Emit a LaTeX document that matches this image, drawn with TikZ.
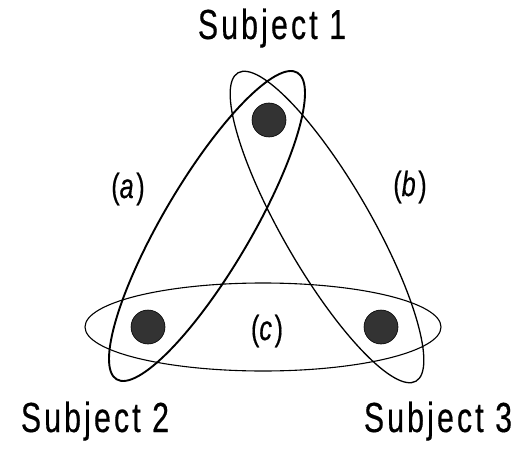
\documentclass[tikz,border=0pt]{standalone}
\usepackage{fontspec}
\setmainfont{Liberation Sans}[FakeStretch=0.72,LetterSpace=7.5,FakeBold=0.4]
\begin{document}
\begin{tikzpicture}[x=1pt,y=1pt,
  dot/.style={circle,draw=black,line width=0.6pt,fill=black!80,minimum size=34pt,inner sep=0pt},
  subj/.style={font=\fontsize{42}{46}\selectfont,anchor=base,inner sep=0pt},
  lab/.style={font=\fontsize{35}{38}\selectfont,inner sep=0pt},
  ringa/.style={draw=black,line width=1.9pt},
  ringb/.style={draw=black,line width=1.3pt},
  ringc/.style={draw=black,line width=1.1pt}]
\useasboundingbox (0,0) rectangle (524,453);
% ellipses
\draw[ringa] (207,227) [rotate around={59.5:(207,227)}] ellipse [x radius=178, y radius=44];
\draw[ringb] (327,226) [rotate around={120:(327,226)}] ellipse [x radius=178, y radius=44];
\draw[ringc] (263,126) ellipse [x radius=178, y radius=44];
% dots
\node[dot] (d1) at (269,333) {};
\node[dot] (d2) at (148,126) {};
\node[dot] (d3) at (381,126) {};
% subject labels
\node[subj] (s1) at (272,414) {Subject 1};
\node[subj] (s2) at (95,21) {Subject 2};
\node[subj] (s3) at (438,21) {Subject 3};
% edge labels
\node[lab] (la) at (128,264) {(\textit{a})};
\node[lab] (lb) at (410,266) {(\textit{b})};
\node[lab] (lc) at (267,122) {(\textit{c})};
\end{tikzpicture}
\end{document}
